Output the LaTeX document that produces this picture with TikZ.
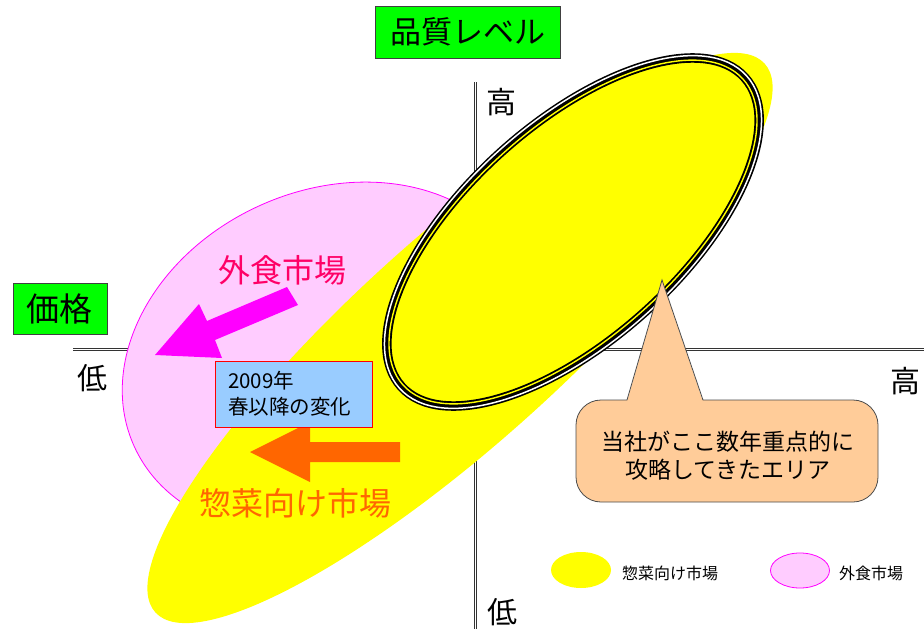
\documentclass[tikz,border=0pt]{standalone}
\usepackage{fontspec}
\setmainfont{Noto Sans CJK JP}
\definecolor{pinkfill}{HTML}{FFCCFF}
\definecolor{magA}{HTML}{FF00FF}
\definecolor{yel}{HTML}{FFFF00}
\definecolor{grn}{HTML}{00FF00}
\definecolor{orng}{HTML}{FF6600}
\definecolor{hotpink}{HTML}{FF0066}
\definecolor{lblue}{HTML}{99CCFF}
\definecolor{peach}{HTML}{FFCC99}
\begin{document}
\begin{tikzpicture}[x=1pt,y=-1pt,
  axisline/.style={draw=black!80, double=white, line width=0.7pt, double distance=1.6pt},
  greenbox/.style={draw=black!75, fill=grn, line width=0.8pt, inner sep=0pt},
  axlabel/.style={font=\fontsize{30}{30}\selectfont, inner sep=0pt},
  bigtext/.style={font=\fontsize{32}{32}\selectfont, inner sep=0pt},
  legtext/.style={font=\fontsize{16}{16}\selectfont, inner sep=0pt, anchor=west}]
\useasboundingbox (0,0) rectangle (924,629);
\fill[white] (0,0) rectangle (924,629);
% axes
\coordinate (hL) at (73,349.5);
\coordinate (hR) at (926,349.5);
\coordinate (vT) at (475.5,82);
\coordinate (vB) at (475.5,631);
\draw[axisline] (hL) -- (hR);
\draw[axisline] (vT) -- (vB);
% pink market ellipse
\draw[fill=pinkfill, draw=magA, line width=0.8pt, rotate around={24.7:(328,358)}]
  (328,358) ellipse [x radius=213, y radius=167];
% yellow market ellipse
\fill[yel, rotate around={42:(460,338)}] (460,338) ellipse [x radius=410, y radius=104];
% company focus ellipse (triple line)
\draw[black, fill=yel, line width=9.5pt, rotate around={42:(573,232)}]
  (573,232) ellipse [x radius=231, y radius=107.5];
\draw[white, line width=1.5pt, rotate around={42:(573,232)}]
  (573,232) ellipse [x radius=233.5, y radius=110];
\draw[yel, line width=1.4pt, rotate around={42:(573,232)}]
  (573,232) ellipse [x radius=228.7, y radius=105.2];
% pink block arrow
\fill[magA] (287,287) -- (207,321) -- (199,304) -- (155,355) -- (222,358) -- (215,340) -- (298,305) -- cycle;
% orange block arrow
\fill[orng] (400,442) -- (310,442) -- (310,422) -- (250,452) -- (310,482) -- (310,462) -- (400,462) -- cycle;
% 2009 box
\node[draw=red, fill=lblue, line width=1pt, minimum width=157pt, minimum height=66pt,
  text width=131pt, inner xsep=13pt, align=left,
  font=\fontsize{20.5}{26}\selectfont] (chg) at (293.5,394) {2009年\\春以降の変化};
% market labels
\node[bigtext, text=hotpink] (gaishoku) at (282.5,270) {外食市場};
\node[bigtext, text=orng] (sozai) at (295,503) {惣菜向け市場};
% axis titles
\node[greenbox, minimum width=185pt, minimum height=52pt, font=\fontsize{31}{31}\selectfont] (quality) at (467.5,32) {品質レベル};
\node[greenbox, minimum width=94pt, minimum height=51pt, font=\fontsize{33}{33}\selectfont] (price) at (60,308.5) {価格};
% axis end labels
\node[axlabel] (hiT) at (501,102) {高};
\node[axlabel] (loL) at (92,378) {低};
\node[axlabel] (hiR) at (905,381) {高};
\node[axlabel] (loB) at (502,612) {低};
% callout
\draw[fill=peach, draw=black!70, line width=0.8pt, rounded corners=25pt] (576,400) rectangle (878,502);
\coordinate (ctip) at (662,280);
\fill[peach] (627,401.5) -- (ctip) -- (703,401.5) -- cycle;
\draw[black!70, line width=0.8pt] (627,400) -- (ctip) -- (703,400);
\node[font=\fontsize{23}{28}\selectfont, align=center, inner sep=0pt] (callout) at (728,456) {当社がここ数年重点的に\\攻略してきたエリア};
% legend
\fill[yel] (581,570) ellipse [x radius=30, y radius=18];
\node[legtext] (legY) at (622,573) {惣菜向け市場};
\draw[fill=pinkfill, draw=magA, line width=0.8pt] (800,570.5) ellipse [x radius=29.5, y radius=17.5];
\node[legtext] (legP) at (839,573) {外食市場};
\end{tikzpicture}
\end{document}
